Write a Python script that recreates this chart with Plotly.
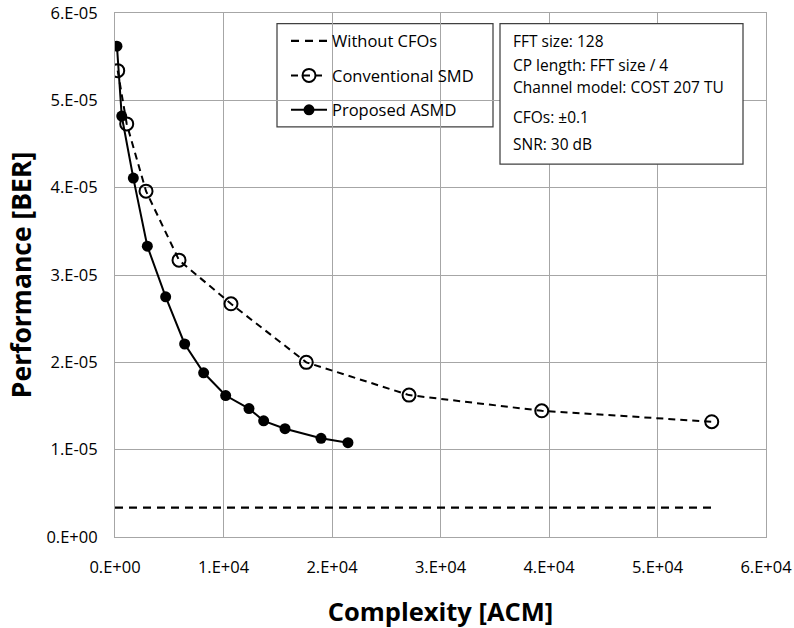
import plotly.graph_objects as go

# ---- data ----
without_x = [0, 55000]
without_y = [3.35e-6, 3.35e-6]

conv_x = [250, 1080, 2860, 5900, 10690, 17630, 27100, 39330, 55000]
conv_y = [5.34e-5, 4.73e-5, 3.96e-5, 3.17e-5, 2.67e-5, 2.00e-5, 1.625e-5, 1.445e-5, 1.32e-5]

prop_x = [180, 620, 1690, 2980, 4670, 6420, 8170, 10200, 12350, 13700, 15670, 18990, 21470]
prop_y = [5.62e-5, 4.82e-5, 4.11e-5, 3.33e-5, 2.75e-5, 2.21e-5, 1.88e-5, 1.62e-5,
          1.47e-5, 1.33e-5, 1.24e-5, 1.13e-5, 1.08e-5]

x_tickvals = [0, 10000, 20000, 30000, 40000, 50000, 60000]
x_ticktext = ["0.E+00", "1.E+04", "2.E+04", "3.E+04", "4.E+04", "5.E+04", "6.E+04"]
y_tickvals = [0, 1e-5, 2e-5, 3e-5, 4e-5, 5e-5, 6e-5]
y_ticktext = ["0.E+00", "1.E-05", "2.E-05", "3.E-05", "4.E-05", "5.E-05", "6.E-05"]

info_lines = ["FFT size: 128", "CP length: FFT size / 4", "Channel model: COST 207 TU",
              "CFOs: \u00b10.1", "SNR: 30 dB"]

FONT = "Open Sans"
GRID = "#a6a6a6"
BOX = "#404040"

fig = go.Figure()
fig.add_trace(go.Scatter(
    x=without_x, y=without_y, mode="lines", name="Without CFOs", legendgroup="a",
    line=dict(color="black", width=2.25, dash="8px,6px")))
fig.add_trace(go.Scatter(
    x=conv_x, y=conv_y, mode="lines+markers", name="Conventional SMD", legendgroup="b",
    line=dict(color="black", width=2, dash="7px,5px"),
    marker=dict(symbol="circle-open", size=13, color="black", line=dict(width=2, color="black"))))
fig.add_trace(go.Scatter(
    x=prop_x, y=prop_y, mode="lines+markers", name="Proposed ASMD", legendgroup="c",
    line=dict(color="black", width=2),
    marker=dict(symbol="circle", size=11, color="black")))

W, H = 794, 628
ml, mr, mt, mb = 115, 28, 13.3, 628 - 536.7

def px(x):  # screen x -> paper
    return (x - 115) / 651.0

def py(y):  # screen y -> paper
    return 1 - (y - 13.3) / 523.4

fig.update_layout(
    width=W, height=H,
    margin=dict(l=ml, r=mr, t=mt, b=mb, autoexpand=False),
    paper_bgcolor="white", plot_bgcolor="white",
    font=dict(family=FONT, color="black", size=16),
    showlegend=True,
    legend=dict(x=px(286), y=py(24), xanchor="left", yanchor="top",
                bgcolor="rgba(0,0,0,0)", borderwidth=0,
                font=dict(family=FONT, size=16.5, color="black"),
                tracegroupgap=10, itemwidth=36),
    xaxis=dict(range=[0, 60000], tickvals=x_tickvals, ticktext=x_ticktext,
               showgrid=True, gridcolor=GRID, gridwidth=1,
               showline=True, linecolor=GRID, linewidth=1, mirror=True,
               ticks="", ticklabelstandoff=15, zeroline=False,
               tickfont=dict(family=FONT, size=16.5, color="black"),
               title=dict(text="<b>Complexity [ACM]</b>", standoff=26,
                          font=dict(family=FONT, size=25.5, color="black"))),
    yaxis=dict(range=[0, 6e-5], tickvals=y_tickvals, ticktext=y_ticktext,
               showgrid=True, gridcolor=GRID, gridwidth=1,
               showline=True, linecolor=GRID, linewidth=1, mirror=True,
               ticks="", ticklabelstandoff=13, zeroline=False,
               tickfont=dict(family=FONT, size=16.5, color="black"),
               title=dict(text="<b>Performance [BER]</b>", standoff=7,
                          font=dict(family=FONT, size=26.5, color="black"))),
)

# legend frame
fig.add_shape(type="rect", xref="paper", yref="paper",
              x0=px(277), x1=px(493), y0=py(127), y1=py(24),
              line=dict(color=BOX, width=1.25), fillcolor="white", layer="below")

# info box
fig.add_shape(type="rect", xref="paper", yref="paper",
              x0=px(500), x1=px(743), y0=py(164.3), y1=py(24),
              line=dict(color=BOX, width=1.25), fillcolor="white", layer="above")

line_y = [41.7, 65.7, 87.7, 117.3, 144.3]
for txt, yy in zip(info_lines, line_y):
    fig.add_annotation(text=txt, xref="paper", yref="paper", x=px(511), y=py(yy),
                       xanchor="left", yanchor="middle", showarrow=False,
                       font=dict(family=FONT, size=15.5, color="black"))

fig.write_html("out.html", config={"displayModeBar": False},
               post_script="document.body.style.margin='0';document.body.style.overflow='hidden';")
